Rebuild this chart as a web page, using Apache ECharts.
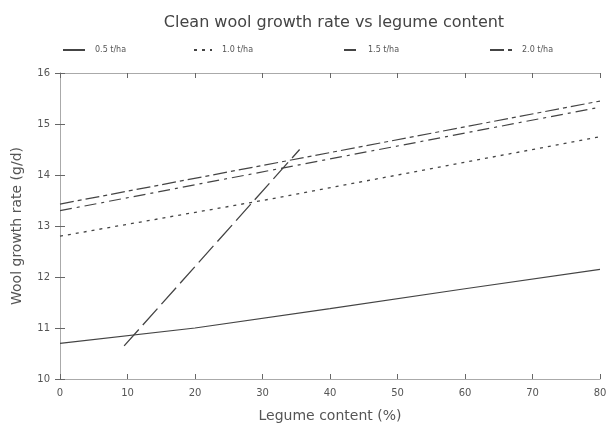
<!DOCTYPE html>
<html>
<head>
<meta charset="utf-8">
<script src="https://cdn.jsdelivr.net/npm/echarts@6/dist/echarts.min.js"></script>
<style>
html,body{margin:0;padding:0;background:#fff}
#chart_1{width:611px;height:431px}
</style>
</head>
<body>
<div id="chart_1"></div>
<script>
// legume content (%) and wool growth (g/d)
var x05 = [0, 20, 40, 60, 80]
var y05 = [10.7, 11.0, 11.38, 11.77, 12.15]
var x10 = [0, 30, 80]
var y10 = [12.8, 13.5, 14.75]
var x15 = [0, 80]
var y15 = [13.3, 15.33]
var x20 = [0, 80]
var y20 = [13.43, 15.45]
// steep long dashed line, not in the legend
var xSteep = [9.5, 35.5]
var ySteep = [10.65, 14.5]
var names = ['0.5 t/ha', '1.0 t/ha', '1.5 t/ha', '2.0 t/ha']

var lineCol = '#444'
var txtCol = '#555'
var font = 'DejaVu Sans'

function pairs(xs, ys){
    var out = []
    for(var i = 0; i < xs.length; i++){
        out.push([xs[i], ys[i]])
    }
    return out
}

var char1 = echarts.init(document.getElementById('chart_1'))

//图例位置
var legendLeft = [57, 188, 338, 484]
var legendW = [22, 18, 14, 22]
var legends = []
for(var i = 0; i < names.length; i++){
    legends.push({
        data: [names[i]],
        left: legendLeft[i],
        top: 41,
        itemWidth: legendW[i],
        itemHeight: 10,
        itemStyle: { color: 'transparent', borderColor: 'transparent', borderWidth: 0 },
        textStyle: { color: txtCol, fontSize: 8, fontFamily: font, padding: [0, 0, 0, 5] }
    })
}

var axisBase = {
    type: 'value',
    axisLine: { show: true, lineStyle: { color: '#aaa', width: 1 } },
    axisTick: { show: true, inside: true, length: 5, lineStyle: { color: '#666', width: 1 } },
    splitLine: { show: false }
}

var option1 = {
    animation: false,
    backgroundColor: '#fff',
    title: {
        text: 'Clean wool growth rate vs legume content',
        left: 329,
        textAlign: 'center',
        top: 10,
        textStyle: { color: '#444', fontSize: 16, fontWeight: 'normal', fontFamily: font }
    },
    legend: legends,
    grid: { left: 60, right: 11, top: 73, bottom: 52 },
    xAxis: [
        Object.assign({}, axisBase, {
            min: 0, max: 80, interval: 10,
            name: 'Legume content (%)',
            nameLocation: 'middle',
            nameGap: 30,
            nameTextStyle: { color: txtCol, fontSize: 14, fontFamily: font },
            axisLabel: { color: txtCol, fontSize: 10, fontFamily: font, margin: 9 }
        }),
        Object.assign({}, axisBase, {
            position: 'top', min: 0, max: 80, interval: 10,
            axisLabel: { show: false }
        })
    ],
    yAxis: [
        Object.assign({}, axisBase, {
            min: 10, max: 16, interval: 1,
            name: 'Wool growth rate (g/d)',
            nameLocation: 'middle',
            nameGap: 36,
            nameTextStyle: { color: txtCol, fontSize: 14, fontFamily: font },
            axisLabel: { color: txtCol, fontSize: 10, fontFamily: font, margin: 10 }
        }),
        Object.assign({}, axisBase, {
            position: 'right', min: 10, max: 16, interval: 1,
            axisLabel: { show: false }
        })
    ],
    series: [
        {
            name: names[0], type: 'line', showSymbol: false, symbol: 'none',
            data: pairs(x05, y05),
            lineStyle: { color: lineCol, width: 1.2, type: 'solid' },
            itemStyle: { color: lineCol }
        },
        {
            name: names[1], type: 'line', showSymbol: false, symbol: 'none',
            data: pairs(x10, y10),
            lineStyle: { color: lineCol, width: 1.3, type: [3, 5] },
            itemStyle: { color: lineCol }
        },
        {
            name: names[2], type: 'line', showSymbol: false, symbol: 'none',
            data: pairs(x15, y15),
            lineStyle: { color: lineCol, width: 1.2, type: [12, 5, 3, 5] },
            itemStyle: { color: lineCol }
        },
        {
            name: names[3], type: 'line', showSymbol: false, symbol: 'none',
            data: pairs(x20, y20),
            lineStyle: { color: lineCol, width: 1.2, type: [14, 4, 4, 4] },
            itemStyle: { color: lineCol }
        },
        {
            name: 'steep', type: 'line', showSymbol: false, symbol: 'none',
            data: pairs(xSteep, ySteep),
            lineStyle: { color: lineCol, width: 1.3, type: [22, 6] },
            itemStyle: { color: lineCol }
        }
    ]
}
char1.setOption(option1)
</script>
</body>
</html>
